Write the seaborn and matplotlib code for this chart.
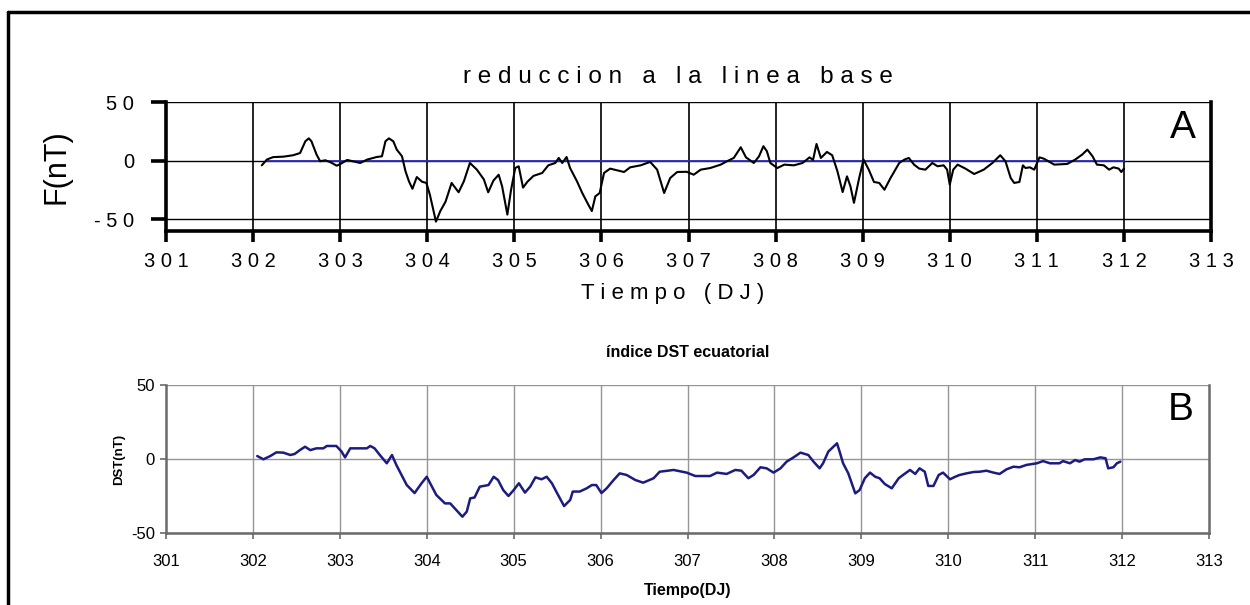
import numpy as np
import pandas as pd
import matplotlib
matplotlib.use("Agg")
import matplotlib.pyplot as plt
from matplotlib.lines import Line2D
import seaborn as sns

# ---- Panel A: baseline reduction F(nT) ----
a_day = [302.10, 302.16, 302.23, 302.35, 302.46, 302.54, 302.60, 302.64, 302.67, 302.73,
         302.77, 302.83, 302.89, 302.96, 303.00, 303.08, 303.15, 303.23, 303.31, 303.42,
         303.48, 303.52, 303.56, 303.61, 303.65, 303.71, 303.75, 303.79, 303.83, 303.88,
         303.94, 303.99, 304.03, 304.07, 304.10, 304.15, 304.21, 304.28, 304.36, 304.42,
         304.49, 304.57, 304.65, 304.70, 304.76, 304.82, 304.86, 304.92, 304.96, 305.01,
         305.05, 305.10, 305.15, 305.22, 305.32, 305.39, 305.47, 305.51, 305.55, 305.60,
         305.64, 305.72, 305.78, 305.85, 305.89, 305.93, 305.98, 306.03, 306.10, 306.26,
         306.33, 306.45, 306.56, 306.64, 306.72, 306.79, 306.87, 306.98, 307.06, 307.14,
         307.25, 307.37, 307.44, 307.52, 307.60, 307.66, 307.75, 307.81, 307.86, 307.90,
         307.94, 308.02, 308.10, 308.21, 308.31, 308.39, 308.43, 308.47, 308.52, 308.59,
         308.65, 308.71, 308.77, 308.82, 308.86, 308.90, 308.96, 309.01, 309.07, 309.13,
         309.19, 309.25, 309.32, 309.42, 309.48, 309.53, 309.59, 309.65, 309.72, 309.80,
         309.86, 309.93, 309.97, 310.00, 310.04, 310.09, 310.18, 310.28, 310.39, 310.49,
         310.58, 310.64, 310.70, 310.74, 310.80, 310.84, 310.87, 310.92, 310.97, 311.03,
         311.08, 311.20, 311.35, 311.44, 311.52, 311.58, 311.64, 311.69, 311.77, 311.83,
         311.88, 311.94, 311.97, 312.00]
a_val = [-4, 1, 3, 3.4, 4.6, 6.5, 16.5, 19, 16.5, 5,
         -0.5, 0.3, -1.4, -4.3, -3, 0.6, -0.6, -2, 0.9, 3.1,
         3.7, 16.5, 19, 16.5, 9.4, 3.7, -9, -17.7, -24, -14,
         -18, -19, -29, -42, -52, -43, -35, -19, -27, -17.7,
         -2, -7.7, -16, -27, -17, -12, -22, -46, -26, -6.3,
         -4.8, -23, -18, -13, -10.5, -4, -2, 2.3, -2, 3.1,
         -6.3, -17.7, -27.6, -37.6, -43, -30.5, -27.6, -10.5, -6.8, -9.7,
         -5.7, -4, -1.1, -7.7, -27.6, -14.8, -9.7, -9.5, -12, -7.7,
         -6.3, -3.4, -0.6, 2.3, 11.4, 2.8, -2, 3.7, 12.3, 8,
         -2, -6.3, -3.4, -4, -2, 2.8, 0.6, 14.2, 2.3, 7.4,
         4.6, -9, -26.8, -13.4, -22, -36, -14.8, 0.9, -7.7, -18.2,
         -19, -24.8, -14.8, -2, 0.9, 2.3, -3.4, -6.8, -7.7, -2,
         -4.8, -4, -7.7, -20.5, -7.7, -3.4, -6.8, -11.4, -7.7, -2,
         4.6, -0.6, -14.8, -19, -18.2, -4, -6.3, -5.7, -7.7, 2.8,
         1.7, -3.4, -2.8, 0.9, 5.1, 9.4, 3.7, -3.4, -4, -7.7,
         -5.7, -6.8, -9.7, -6.8]
base_day = [302.15, 312.0]
base_val = [0, 0]

# ---- Panel B: equatorial DST index ----
b_day = [302.05, 302.12, 302.20, 302.27, 302.35, 302.43, 302.48, 302.54, 302.60, 302.66,
         302.73, 302.81, 302.85, 302.96, 303.02, 303.06, 303.12, 303.21, 303.31, 303.35,
         303.40, 303.46, 303.54, 303.60, 303.65, 303.71, 303.77, 303.86, 303.94, 304.00,
         304.06, 304.11, 304.21, 304.27, 304.34, 304.41, 304.46, 304.50, 304.55, 304.61,
         304.71, 304.77, 304.82, 304.88, 304.94, 305.00, 305.06, 305.13, 305.19, 305.25,
         305.32, 305.38, 305.44, 305.49, 305.58, 305.65, 305.68, 305.76, 305.84, 305.90,
         305.95, 306.01, 306.07, 306.15, 306.22, 306.30, 306.40, 306.49, 306.61, 306.68,
         306.84, 306.99, 307.09, 307.26, 307.34, 307.45, 307.55, 307.62, 307.70, 307.76,
         307.84, 307.91, 307.99, 308.07, 308.14, 308.22, 308.30, 308.39, 308.45, 308.52,
         308.56, 308.62, 308.68, 308.72, 308.75, 308.79, 308.85, 308.89, 308.93, 308.98,
         309.04, 309.10, 309.16, 309.21, 309.27, 309.35, 309.43, 309.48, 309.56, 309.62,
         309.67, 309.73, 309.77, 309.83, 309.89, 309.94, 310.02, 310.08, 310.13, 310.21,
         310.29, 310.36, 310.44, 310.52, 310.59, 310.67, 310.75, 310.82, 310.90, 311.02,
         311.09, 311.17, 311.28, 311.32, 311.40, 311.46, 311.51, 311.57, 311.67, 311.75,
         311.81, 311.84, 311.90, 311.94, 311.98]
b_val = [2, -0.2, 2, 4.5, 4.3, 2.7, 3.4, 6, 8.3, 6,
         7.2, 7.2, 8.8, 8.8, 5, 1.1, 7.2, 7.2, 7.2, 8.8,
         7.2, 2.7, -2.9, 2.7, -4, -10.8, -17.6, -23, -16.4, -12,
         -18.7, -24.3, -30, -30, -34.5, -39, -35.6, -26.6, -26, -18.7,
         -17.6, -12, -14.2, -21, -25, -21, -16.4, -22.7, -18.7, -12.4,
         -13.7, -12, -16.4, -22, -31.8, -27.7, -22, -22, -19.8, -17.6,
         -17.6, -23, -19.8, -14.2, -9.7, -10.8, -14.2, -16, -13, -8.6,
         -7.4, -9.2, -11.5, -11.5, -9.2, -10.1, -7.4, -7.9, -13, -10.8,
         -5.6, -6.3, -9.2, -6.3, -1.8, 1.1, 4.3, 2.7, -1.8, -6.3,
         -2.9, 5, 8.3, 10.6, 5, -2.9, -9.7, -16.4, -23.2, -21,
         -13, -9.2, -12, -13, -16.9, -19.8, -13, -10.8, -7.4, -10.1,
         -6.3, -8.6, -18.2, -18.2, -10.8, -9.2, -13.7, -12, -10.8, -9.7,
         -8.8, -8.6, -7.9, -9.2, -10.1, -7, -5.2, -5.6, -4, -2.9,
         -1.4, -2.9, -2.9, -1.4, -2.9, -0.7, -1.8, -0.2, -0.2, 1.1,
         0.5, -6.3, -5.6, -2.9, -1.8]

x_ticks = list(range(301, 314))
a_yticks = [-50, 0, 50]
b_yticks = [-50, 0, 50]

def spaced(s, gap=" "):
    return gap.join(str(s))

sns.set_theme(style="white")
plt.rcParams['font.family'] = ['Liberation Sans', 'DejaVu Sans']
plt.rcParams.update({"text.color": "black", "axes.labelcolor": "black",
                     "xtick.color": "black", "ytick.color": "black"})

fig = plt.figure(figsize=(12.5, 6.05), dpi=100)
W, H = 1250, 605

def frac(l, t, r, b):
    return [l / W, 1 - b / H, (r - l) / W, (b - t) / H]

# ---------- Panel A ----------
axA = fig.add_axes(frac(166, 102, 1211, 231))
dfA = pd.DataFrame({"dia": a_day, "F": a_val})
dfB0 = pd.DataFrame({"dia": base_day, "F": base_val})
for xv in x_ticks[1:-1]:
    axA.axvline(xv, color="black", lw=1.2, zorder=1)
for yv in a_yticks:
    axA.axhline(yv, color="black", lw=1.0, zorder=1)
sns.lineplot(data=dfB0, x="dia", y="F", ax=axA, color="#2b2bb8", lw=1.3, estimator=None, zorder=2)
sns.lineplot(data=dfA, x="dia", y="F", ax=axA, color="black", lw=1.5, estimator=None, zorder=3)
axA.set_xlim(301, 313)
axA.set_ylim(-60, 50)
axA.set_xticks(x_ticks)
axA.set_xticklabels([spaced(t) for t in x_ticks], fontsize=14.5)
axA.set_yticks(a_yticks)
axA.set_yticklabels([spaced(t) for t in a_yticks], fontsize=14.5)
axA.spines["top"].set_visible(False)
for s in ["left", "bottom", "right"]:
    axA.spines[s].set_linewidth(2.6)
    axA.spines[s].set_color("black")
axA.tick_params(axis="x", direction="out", length=8, width=2.6, color="black",
                bottom=True, pad=7)
axA.tick_params(axis="y", direction="out", length=11, width=2.6, color="black",
                left=True, pad=12)
axA.set_xlabel("T i e m p o   ( D J )", fontsize=16, labelpad=9, x=0.485)
axA.set_ylabel("F(nT)", fontsize=22, labelpad=16,
               family=["Liberation Sans Narrow", "Liberation Sans"])
axA.set_title("r e d u c c i o n   a   l a   l i n e a   b a s e", fontsize=17.5, pad=14, x=0.49)
axA.text(0.985, 0.8, "A", transform=axA.transAxes, ha="right", va="center", fontsize=28)

# ---------- Panel B ----------
axB = fig.add_axes(frac(166, 385, 1209, 533))
dfB = pd.DataFrame({"dia": b_day, "DST": b_val})
for xv in x_ticks[1:-1]:
    axB.axvline(xv, color="#959595", lw=1.0, zorder=1)
for yv in b_yticks:
    axB.axhline(yv, color="#959595", lw=1.0, zorder=1)
sns.lineplot(data=dfB, x="dia", y="DST", ax=axB, color="#1c1c80", lw=1.8, estimator=None, zorder=3)
axB.set_xlim(301, 313)
axB.set_ylim(-50, 50)
axB.set_xticks(x_ticks)
axB.set_xticklabels([str(t) for t in x_ticks], fontsize=12)
axB.set_yticks(b_yticks)
axB.set_yticklabels([str(t) for t in b_yticks], fontsize=12)
axB.spines["top"].set_visible(False)
for s in ["left", "bottom", "right"]:
    axB.spines[s].set_linewidth(1.8)
    axB.spines[s].set_color("#6a6a6a")
axB.tick_params(axis="both", direction="out", length=4, width=1.2, color="#6a6a6a",
                bottom=True, left=True)
axB.tick_params(axis="x", pad=11)
axB.tick_params(axis="y", pad=4)
axB.set_xlabel("Tiempo(DJ)", fontsize=11.5, fontweight="bold", labelpad=10)
axB.set_ylabel("DST(nT)", fontsize=9.5, fontweight="bold", labelpad=4)
axB.set_title("índice DST ecuatorial", fontsize=11.5, fontweight="bold", pad=20)
axB.text(0.985, 0.83, "B", transform=axB.transAxes, ha="right", va="center", fontsize=28)

# outer frame (top and left edges)
fig.add_artist(Line2D([8 / W, 1], [1 - 12 / H, 1 - 12 / H], transform=fig.transFigure,
                      color="black", lw=2.5))
fig.add_artist(Line2D([8 / W, 8 / W], [0, 1 - 12 / H], transform=fig.transFigure,
                      color="black", lw=2.5))

fig.savefig("out.png", dpi=100)
